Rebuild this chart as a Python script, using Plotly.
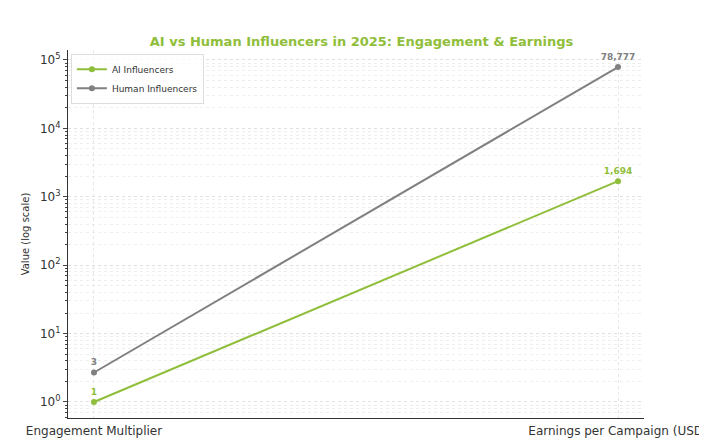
import plotly.graph_objects as go

categories = ["Engagement Multiplier", "Earnings per Campaign (USD)"]
ai_values = [1, 1694]
human_values = [2.7, 78777]
ai_labels = ["1", "1,694"]
human_labels = ["3", "78,777"]

GREEN = "#8fbe3a"
GRAY = "#808080"

fig = go.Figure()
fig.add_trace(go.Scatter(x=categories, y=ai_values, mode="lines+markers+text", name="AI Influencers",
                         line=dict(color=GREEN, width=2), marker=dict(size=6, color=GREEN),
                         text=["<b>%s</b>" % t for t in ai_labels], textposition="top center",
                         textfont=dict(color=GREEN, size=9, family="DejaVu Sans"), cliponaxis=False))
fig.add_trace(go.Scatter(x=categories, y=human_values, mode="lines+markers+text", name="Human Influencers",
                         line=dict(color=GRAY, width=2), marker=dict(size=6, color=GRAY),
                         text=["<b>%s</b>" % t for t in human_labels], textposition="top center",
                         textfont=dict(color=GRAY, size=9, family="DejaVu Sans"), cliponaxis=False))

fig.update_layout(
    width=707, height=447, plot_bgcolor="white", paper_bgcolor="white",
    margin=dict(l=60, r=71, t=42, b=37, autoexpand=False),
    font=dict(family="DejaVu Sans", size=11, color="#333"),
    title=dict(text="<b>AI vs Human Influencers in 2025: Engagement & Earnings</b>", x=0.5, y=0.925,
               xanchor="center", yanchor="middle", font=dict(color=GREEN, size=13)),
    legend=dict(x=0.005, y=0.99, xanchor="left", yanchor="top", bgcolor="rgba(255,255,255,0.8)",
                bordercolor="#ddd", borderwidth=1, font=dict(size=9), tracegroupgap=0, itemwidth=30),
    xaxis=dict(type="category", range=[-0.0496, 1.0496], showline=True, linecolor="#333", automargin=False,
               showgrid=True, gridcolor="#e6e6e6", griddash="dot", ticks="", ticklabelstandoff=2,
               tickfont=dict(size=12)),
    yaxis=dict(type="log", range=[-0.234, 5.146], showline=True, linecolor="#333", automargin=False,
               title=dict(text="Value (log scale)", font=dict(size=10), standoff=8),
               tickvals=[1, 10, 100, 1000, 10000, 100000],
               ticktext=["10<sup>0</sup>", "10<sup>1</sup>", "10<sup>2</sup>", "10<sup>3</sup>", "10<sup>4</sup>", "10<sup>5</sup>"],
               ticks="outside", ticklen=4, tickfont=dict(size=12),
               showgrid=True, gridcolor="#e0e0e0", griddash="dot",
               minor=dict(showgrid=True, gridcolor="#eeeeee", griddash="dot", ticks="outside", ticklen=2,
                          dtick="D1")),
)
fig.write_html("out.html")
